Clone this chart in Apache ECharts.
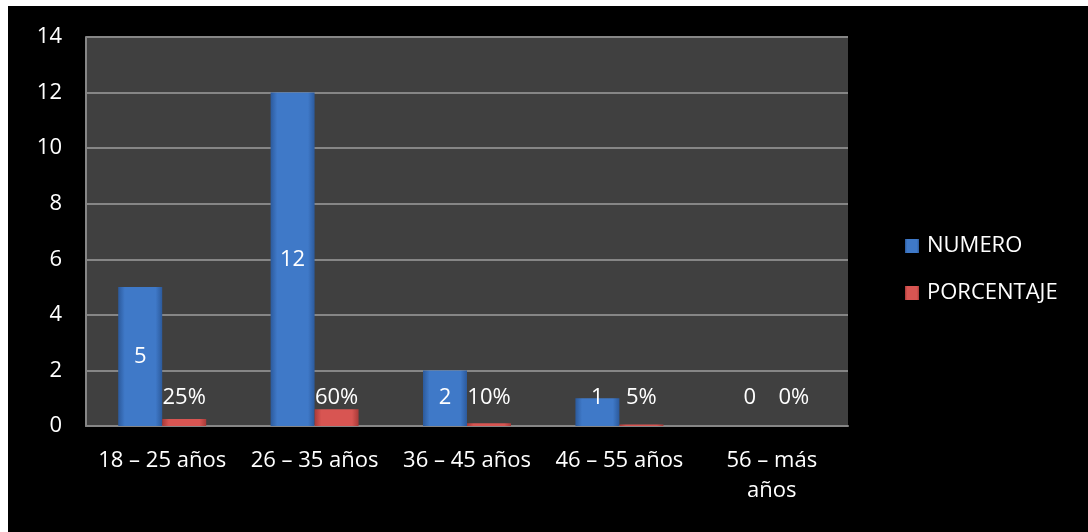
<!DOCTYPE html>
<html>
<head>
<meta charset="utf-8">
<script src="https://cdn.jsdelivr.net/npm/echarts@6/dist/echarts.min.js"></script>
<style>
  body { margin: 0; background: #ffffff; }
  #chart { position: absolute; left: 8px; top: 6px; width: 1080px; height: 526px; background: #000000; }
</style>
</head>
<body>
<div id="chart"></div>
<script>
  // data
  const categories = ['18 – 25 años', '26 – 35 años', '36 – 45 años', '46 – 55 años', '56 – más\naños']
  const numero = [5, 12, 2, 1, 0]
  const porcentaje = [0.25, 0.6, 0.1, 0.05, 0]
  const numeroLabels = ['5', '12', '2', '1', '0']
  const porcentajeLabels = ['25%', '60%', '10%', '5%', '0%']

  const font = '"Open Sans", "Noto Sans", sans-serif'
  const fontSize = 22

  function barGradient(edge, mid) {
    return new echarts.graphic.LinearGradient(0, 0, 1, 0, [
      { offset: 0, color: edge },
      { offset: 0.15, color: mid },
      { offset: 0.85, color: mid },
      { offset: 1, color: edge }
    ])
  }

  // small bars get their label at a fixed height above the axis, like the original
  const numeroData = numero.map((v, i) => {
    const item = { value: v }
    if (v <= 2) {
      item.label = { position: 'insideBottom', distance: 17 }
    }
    return item
  })

  const myChart = echarts.init(document.getElementById('chart'))
  myChart.setOption({
    backgroundColor: '#000000',
    textStyle: { fontFamily: font },
    grid: {
      left: 78,
      top: 31,
      right: 240,
      bottom: 106,
      show: true,
      backgroundColor: '#404040',
      borderWidth: 0
    },
    legend: {
      orient: 'vertical',
      left: 892,
      top: 224,
      itemWidth: 14,
      itemHeight: 14,
      itemGap: 25,
      icon: 'rect',
      textStyle: { color: '#ffffff', fontSize: fontSize, fontFamily: font, padding: [0, 0, 0, 3] },
      data: ['NUMERO', 'PORCENTAJE']
    },
    xAxis: {
      type: 'category',
      data: categories,
      axisLine: { lineStyle: { color: '#868686', width: 2 } },
      axisTick: { show: false },
      axisLabel: {
        color: '#ffffff',
        fontSize: fontSize,
        fontFamily: font,
        margin: 20,
        lineHeight: 30,
        interval: 0
      }
    },
    yAxis: {
      type: 'value',
      min: 0,
      max: 14,
      interval: 2,
      axisLine: { show: true, lineStyle: { color: '#868686', width: 2 } },
      axisTick: { show: false },
      splitLine: { lineStyle: { color: '#868686', width: 2 } },
      axisLabel: { color: '#ffffff', fontSize: fontSize, fontFamily: font, margin: 24 }
    },
    series: [
      {
        name: 'NUMERO',
        type: 'bar',
        barWidth: 44,
        barGap: '0%',
        data: numeroData,
        itemStyle: { color: barGradient('#2c5a9c', '#3f79c8') },
        label: {
          show: true,
          position: 'inside',
          color: '#ffffff',
          fontSize: fontSize,
          fontFamily: font,
          formatter: p => numeroLabels[p.dataIndex]
        }
      },
      {
        name: 'PORCENTAJE',
        type: 'bar',
        barWidth: 44,
        data: porcentaje,
        itemStyle: { color: barGradient('#a83a38', '#d85552') },
        label: {
          show: true,
          position: 'insideBottom',
          distance: 17,
          color: '#ffffff',
          fontSize: fontSize,
          fontFamily: font,
          formatter: p => porcentajeLabels[p.dataIndex]
        }
      }
    ]
  })
</script>
</body>
</html>
